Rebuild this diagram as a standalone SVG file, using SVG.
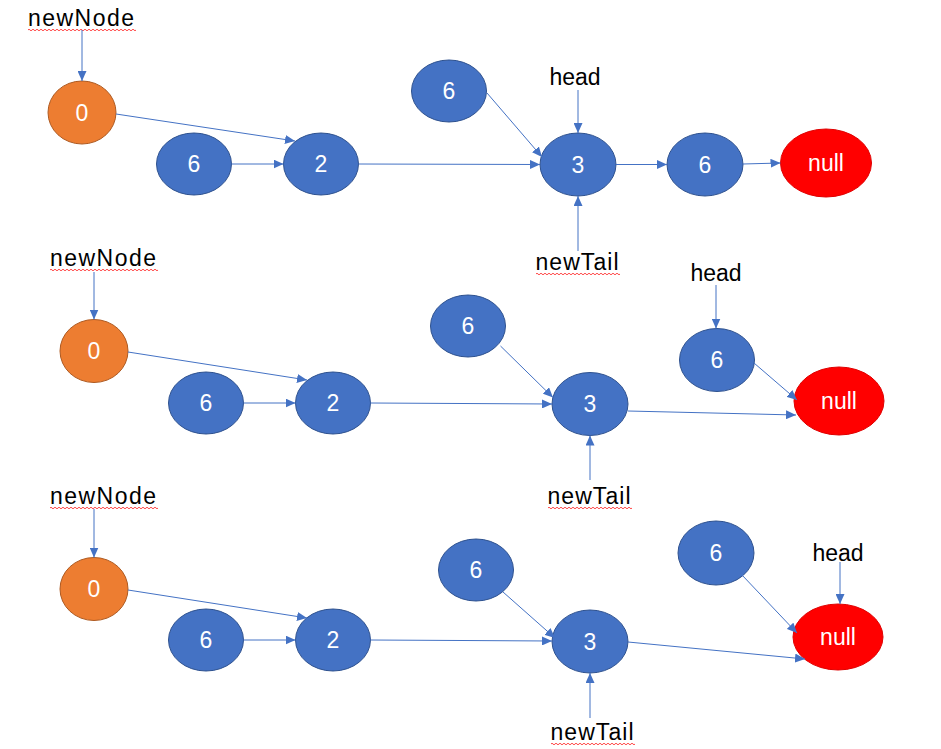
<svg xmlns="http://www.w3.org/2000/svg" width="941" height="749" viewBox="0 0 941 749">
  <defs>
    <marker id="arrow" markerUnits="userSpaceOnUse" markerWidth="10" markerHeight="9" refX="10" refY="4.5" orient="auto">
      <path d="M0,0 L10,4.5 L0,9 z" fill="#4472C4"/>
    </marker>
    <path id="squiggle" d="M0,0 q1,-1.6 2,0 t2,0 t2,0 t2,0 t2,0 t2,0 t2,0 t2,0 t2,0 t2,0 t2,0 t2,0 t2,0 t2,0 t2,0 t2,0 t2,0 t2,0 t2,0 t2,0 t2,0 t2,0 t2,0 t2,0 t2,0 t2,0 t2,0 t2,0 t2,0 t2,0 t2,0 t2,0 t2,0 t2,0 t2,0 t2,0 t2,0 t2,0 t2,0 t2,0 t2,0 t2,0 t2,0 t2,0 t2,0 t2,0 t2,0 t2,0 t2,0 t2,0 t2,0 t2,0 t2,0 t2,0" fill="none" stroke="#FF3333" stroke-width="0.9"/>
    <clipPath id="clipNode"><rect x="0" y="-3" width="108" height="6"/></clipPath>
    <clipPath id="clipTail"><rect x="0" y="-3" width="84" height="6"/></clipPath>
  </defs>
  <style>
    .blue { fill: #4472C4; stroke: #2F528F; stroke-width: 1; }
    .orange { fill: #ED7D31; stroke: #AE5A21; stroke-width: 1; }
    .red { fill: #FF0000; stroke: #E00000; stroke-width: 1; }
    .val { fill: #FFFFFF; font-family: "Liberation Sans", "Noto Sans", sans-serif; font-size: 23px; text-anchor: middle; }
    .lbl { fill: #000000; font-family: "Liberation Sans", "Noto Sans", sans-serif; font-size: 23px; text-anchor: middle; }
    .edge { stroke: #4472C4; stroke-width: 1; fill: none; marker-end: url(#arrow); }
  </style>
  <rect width="941" height="749" fill="#FFFFFF"/>

  <!-- ===== Row 1 ===== -->
  <g id="r1-newNode"><text class="lbl" x="81" y="26" textLength="106">newNode</text>
    <use href="#squiggle" x="28" y="30" clip-path="url(#clipNode)"/></g>
  <g id="r1-n0"><ellipse class="orange" cx="82" cy="112.5" rx="34" ry="31.5"/><text class="val" x="82" y="121">0</text></g>
  <g id="r1-n6a"><ellipse class="blue" cx="194" cy="164" rx="37.5" ry="31"/><text class="val" x="194" y="172">6</text></g>
  <g id="r1-n2"><ellipse class="blue" cx="321" cy="164" rx="37.5" ry="31"/><text class="val" x="321" y="172">2</text></g>
  <g id="r1-n6b"><ellipse class="blue" cx="449" cy="91" rx="37.5" ry="31"/><text class="val" x="449" y="99">6</text></g>
  <g id="r1-head"><text class="lbl" x="575" y="85">head</text></g>
  <g id="r1-n3"><ellipse class="blue" cx="578" cy="164.5" rx="38" ry="31.5"/><text class="val" x="578" y="173">3</text></g>
  <g id="r1-newTail"><text class="lbl" x="577" y="270" textLength="83">newTail</text>
    <use href="#squiggle" x="536" y="274" clip-path="url(#clipTail)"/></g>
  <g id="r1-n6c"><ellipse class="blue" cx="705" cy="164.5" rx="38" ry="31.5"/><text class="val" x="705" y="173">6</text></g>
  <g id="r1-null"><ellipse class="red" cx="826" cy="163" rx="45.5" ry="34"/><text class="val" x="826" y="171">null</text></g>

  <!-- ===== Row 2 ===== -->
  <g id="r2-newNode"><text class="lbl" x="103" y="266" textLength="106">newNode</text>
    <use href="#squiggle" x="50" y="270" clip-path="url(#clipNode)"/></g>
  <g id="r2-n0"><ellipse class="orange" cx="94" cy="351" rx="34" ry="31.5"/><text class="val" x="94" y="359">0</text></g>
  <g id="r2-n6a"><ellipse class="blue" cx="206" cy="403" rx="37.5" ry="31"/><text class="val" x="206" y="411">6</text></g>
  <g id="r2-n2"><ellipse class="blue" cx="333" cy="403" rx="37.5" ry="31"/><text class="val" x="333" y="411">2</text></g>
  <g id="r2-n6b"><ellipse class="blue" cx="468" cy="326" rx="37.5" ry="31"/><text class="val" x="468" y="334">6</text></g>
  <g id="r2-n3"><ellipse class="blue" cx="590" cy="404" rx="38" ry="31.5"/><text class="val" x="590" y="412">3</text></g>
  <g id="r2-newTail"><text class="lbl" x="589" y="504" textLength="83">newTail</text>
    <use href="#squiggle" x="548" y="508" clip-path="url(#clipTail)"/></g>
  <g id="r2-head"><text class="lbl" x="716" y="281">head</text></g>
  <g id="r2-n6c"><ellipse class="blue" cx="717" cy="360" rx="37.5" ry="31.5"/><text class="val" x="717" y="368">6</text></g>
  <g id="r2-null"><ellipse class="red" cx="839" cy="401" rx="45" ry="34"/><text class="val" x="839" y="409">null</text></g>

  <!-- ===== Row 3 ===== -->
  <g id="r3-newNode"><text class="lbl" x="103" y="504" textLength="106">newNode</text>
    <use href="#squiggle" x="50" y="508" clip-path="url(#clipNode)"/></g>
  <g id="r3-n0"><ellipse class="orange" cx="94" cy="589" rx="34" ry="31.5"/><text class="val" x="94" y="597">0</text></g>
  <g id="r3-n6a"><ellipse class="blue" cx="206" cy="640" rx="37.5" ry="31"/><text class="val" x="206" y="648">6</text></g>
  <g id="r3-n2"><ellipse class="blue" cx="333" cy="640" rx="37.5" ry="31"/><text class="val" x="333" y="648">2</text></g>
  <g id="r3-n6b"><ellipse class="blue" cx="476" cy="570" rx="37.5" ry="31"/><text class="val" x="476" y="578">6</text></g>
  <g id="r3-n3"><ellipse class="blue" cx="590" cy="641.5" rx="38" ry="31.5"/><text class="val" x="590" y="650">3</text></g>
  <g id="r3-newTail"><text class="lbl" x="592" y="740" textLength="83">newTail</text>
    <use href="#squiggle" x="551" y="744" clip-path="url(#clipTail)"/></g>
  <g id="r3-n6c"><ellipse class="blue" cx="716" cy="553" rx="38" ry="32"/><text class="val" x="716" y="561">6</text></g>
  <g id="r3-head"><text class="lbl" x="838" y="561">head</text></g>
  <g id="r3-null"><ellipse class="red" cx="838" cy="637" rx="45" ry="33"/><text class="val" x="838" y="645">null</text></g>

  <!-- ===== Connectors ===== -->
  <g id="connectors">
    <!-- row 1 -->
    <line class="edge" x1="82" y1="30" x2="82" y2="81"/>
    <line class="edge" x1="116" y1="114" x2="295" y2="141"/>
    <line class="edge" x1="231.5" y1="164" x2="283.5" y2="164"/>
    <line class="edge" x1="358.5" y1="164" x2="540" y2="164.5"/>
    <line class="edge" x1="487" y1="93" x2="542" y2="157"/>
    <line class="edge" x1="578" y1="90" x2="578" y2="133"/>
    <line class="edge" x1="578" y1="251" x2="578" y2="196"/>
    <line class="edge" x1="616" y1="164.5" x2="667" y2="164.5"/>
    <line class="edge" x1="743" y1="164" x2="780.5" y2="163"/>
    <!-- row 2 -->
    <line class="edge" x1="94" y1="272" x2="94" y2="319.5"/>
    <line class="edge" x1="128" y1="352" x2="307" y2="380"/>
    <line class="edge" x1="243.5" y1="403" x2="295.5" y2="403"/>
    <line class="edge" x1="370.5" y1="403" x2="552" y2="404"/>
    <line class="edge" x1="500.5" y1="346" x2="553" y2="397.5"/>
    <line class="edge" x1="590" y1="480" x2="590" y2="435.5"/>
    <line class="edge" x1="716" y1="285" x2="716" y2="328.5"/>
    <line class="edge" x1="628" y1="411" x2="796" y2="415"/>
    <line class="edge" x1="754" y1="363" x2="797" y2="400"/>
    <!-- row 3 -->
    <line class="edge" x1="94" y1="509" x2="94" y2="557.5"/>
    <line class="edge" x1="128" y1="590" x2="307" y2="618"/>
    <line class="edge" x1="243.5" y1="640" x2="295.5" y2="640"/>
    <line class="edge" x1="370.5" y1="640" x2="552" y2="641"/>
    <line class="edge" x1="503" y1="592" x2="555" y2="638"/>
    <line class="edge" x1="590" y1="718" x2="590" y2="673"/>
    <line class="edge" x1="742" y1="575" x2="797" y2="633"/>
    <line class="edge" x1="840" y1="562" x2="840" y2="604"/>
    <line class="edge" x1="628" y1="642" x2="805" y2="659"/>
  </g>
</svg>
